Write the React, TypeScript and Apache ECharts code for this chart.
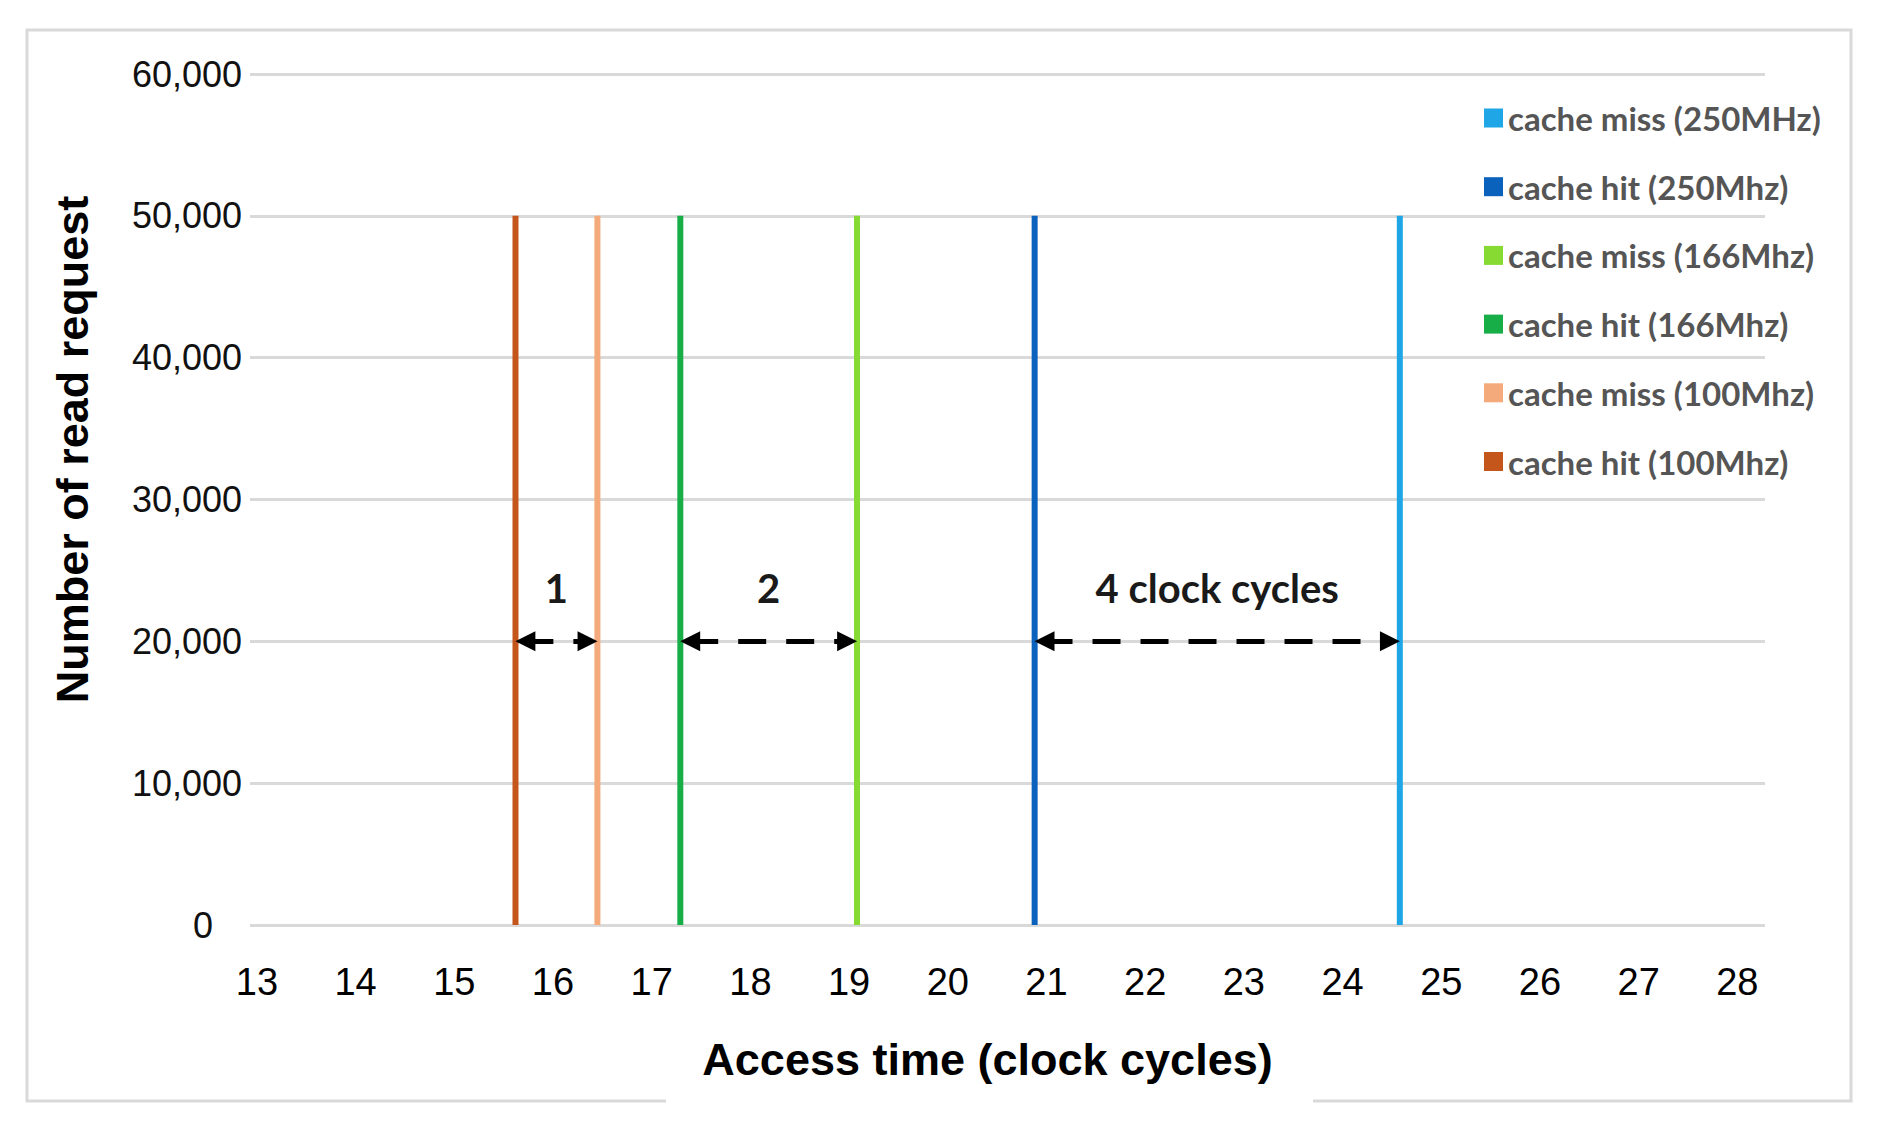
import React, { useEffect, useRef } from "react";
import * as echarts from "echarts";

const seriesNames = [
  "cache miss (250MHz)",
  "cache hit (250Mhz)",
  "cache miss (166Mhz)",
  "cache hit (166Mhz)",
  "cache miss (100Mhz)",
  "cache hit (100Mhz)",
];
const accessTimes = [24.58, 20.88, 19.08, 17.29, 16.45, 15.62];
const readRequests = [50000, 50000, 50000, 50000, 50000, 50000];
const seriesColors = ["#1FA6E6", "#0A62BD", "#86DA32", "#17AE48", "#F5AA7C", "#C4561B"];

const xTicks = [13, 14, 15, 16, 17, 18, 19, 20, 21, 22, 23, 24, 25, 26, 27, 28];
const yTicks = [0, 10000, 20000, 30000, 40000, 50000, 60000];

// annotation arrows: [hit index, miss index, label]
const gapLabels = ["1", "2", "4 clock cycles"];
const gapPairs = [
  [5, 4],
  [3, 2],
  [1, 0],
];
const arrowLevel = 20000;

const fmt = (v: number) => v.toString().replace(/\B(?=(\d{3})+(?!\d))/g, ",");

export default function App() {
  const ref = useRef<HTMLDivElement>(null);
  useEffect(() => {
    if (!ref.current) return;
    const chart = echarts.init(ref.current, null, { renderer: "svg" });
    const inset = 0.1;
    const series: any[] = seriesNames.map((name, i) => ({
      name,
      type: "line",
      showSymbol: false,
      symbol: "none",
      color: seriesColors[i],
      lineStyle: { width: 6, color: seriesColors[i] },
      data: [
        [accessTimes[i], 0],
        [accessTimes[i], readRequests[i]],
      ],
      z: 3,
    }));
    gapPairs.forEach(([a, b], k) => {
      const s = series[b];
      s.markLine = {
        silent: true,
        symbol: ["triangle", "triangle"],
        symbolSize: [20, 20],
        lineStyle: { color: "#000", width: 5, type: [28, 20] },
        label: {
          show: true,
          position: "middle",
          distance: 33,
          formatter: gapLabels[k],
          fontFamily: "Lato",
          fontWeight: "bold",
          fontSize: 40,
          color: "#1a1a1a",
        },
        emphasis: { disabled: true },
        data: [
          [
            { coord: [accessTimes[a] + inset, arrowLevel] },
            { coord: [accessTimes[b] - inset, arrowLevel] },
          ],
        ],
        z: 5,
      };
    });
    chart.setOption({
      animation: false,
      backgroundColor: "#ffffff",
      grid: { left: 250, right: 114, top: 74, bottom: 205 },
      legend: {
        data: seriesNames,
        orient: "vertical",
        left: 1479,
        top: 95,
        itemWidth: 19,
        itemHeight: 19,
        itemGap: 32.7,
        icon: "rect",
        selectedMode: false,
        textStyle: {
          color: "#555555",
          fontFamily: "Lato",
          fontWeight: "bold",
          fontSize: 33,
          lineHeight: 36,
        },
      },
      xAxis: {
        type: "value",
        min: 12.93,
        max: 28.28,
        name: "Access time (clock cycles)",
        nameLocation: "middle",
        nameGap: 112,
        nameTextStyle: {
          fontFamily: "Liberation Sans",
          fontWeight: "bold",
          fontSize: 45,
          color: "#000",
          padding: [0, 40, 0, 0],
        },
        axisLine: { show: false },
        axisTick: { show: false },
        splitLine: { show: false },
        axisLabel: {
          customValues: xTicks,
          margin: 38,
          fontFamily: "Liberation Sans",
          fontSize: 38,
          color: "#000",
        },
      },
      yAxis: {
        type: "value",
        min: 0,
        max: 60000,
        interval: 10000,
        name: "Number of read request",
        nameLocation: "middle",
        nameRotate: 90,
        nameGap: 155,
        nameTextStyle: {
          fontFamily: "Liberation Sans",
          fontWeight: "bold",
          fontSize: 45,
          color: "#000",
          padding: [0, 0, 0, 100],
        },
        axisLine: { show: false },
        axisTick: { show: false },
        splitLine: { show: true, lineStyle: { color: "#d9d9d9", width: 3 } },
        axisLabel: {
          margin: 8,
          formatter: (v: number) => (v === 0 ? "{z|0}" : "{n|" + fmt(v) + "}"),
          rich: {
            z: { fontFamily: "Liberation Sans", fontSize: 36, color: "#111", padding: [0, 29, 0, 0] },
            n: { fontFamily: "Liberation Sans", fontSize: 36, color: "#111" },
          },
        },
      },
      graphic: [
        {
          type: "polyline",
          silent: true,
          shape: {
            points: [
              [666, 1101],
              [27, 1101],
              [27, 30],
              [1851, 30],
              [1851, 1101],
              [1313, 1101],
            ],
          },
          style: { stroke: "#d9d9d9", lineWidth: 3, fill: "none" },
        },
      ],
      series,
    });
    return () => chart.dispose();
  }, []);
  return (
    <div
      ref={ref}
      style={{ position: "absolute", left: 0, top: 0, width: 1879, height: 1130 }}
    />
  );
}
